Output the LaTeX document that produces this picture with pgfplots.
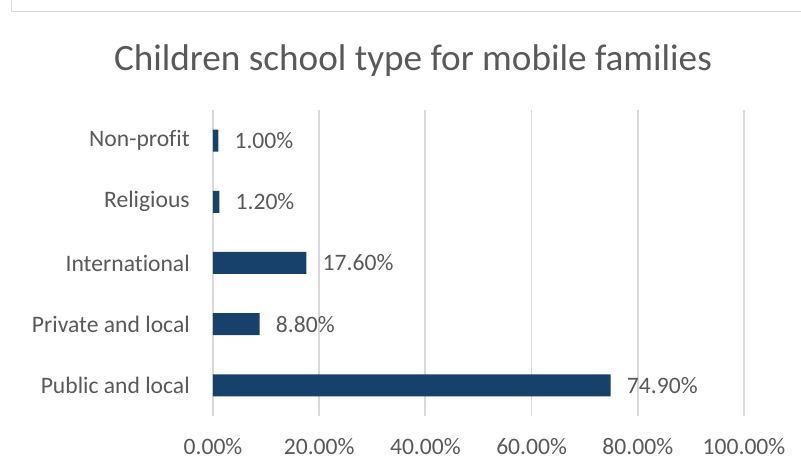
\documentclass[border=0pt]{standalone}
\usepackage{pgfplots}
\pgfplotsset{compat=1.18}
\usepackage{fontspec}
\setmainfont{Carlito}[Ligatures=NoCommon]
\definecolor{barcol}{HTML}{17406A}
\definecolor{txtcol}{HTML}{595959}
\definecolor{gridcol}{HTML}{D9D9D9}
\begin{document}
\begin{tikzpicture}[x=0.75pt,y=0.75pt]
\begin{axis}[
  at={(213*0.75pt,55*0.75pt)}, anchor=south west,
  scale only axis,
  width=398.25pt, height=229.5pt,
  xbar, bar width=16.5pt,
  xmin=0, xmax=100, ymin=-0.5, ymax=4.5,
  xtick={0,20,40,60,80,100},
  ytick={0,1,2,3,4},
  yticklabels={Public and local,Private and local,International,Religious,Non-profit},
  xticklabel={\pgfmathprintnumber[fixed,fixed zerofill,precision=2]{\tick}\%},
  /pgf/number format/assume math mode=true,
  xmajorgrids, major grid style={gridcol, line width=1.35pt},
  axis line style={draw=none},
  major tick length=0pt,
  tick label style={font=\fontsize{17.7}{21}\selectfont, text=txtcol, inner sep=0pt},
  xticklabel style={anchor=base, yshift=-39*0.75pt},
  yticklabel style={anchor=east, xshift=-23*0.75pt},
  point meta=x,
  nodes near coords={\pgfmathprintnumber[fixed,fixed zerofill,precision=2,assume math mode=true]{\pgfplotspointmeta}\%},
  every node near coord/.append style={font=\fontsize{17.7}{21}\selectfont, text=txtcol, inner sep=0pt, anchor=west, xshift=16*0.75pt},
  clip=false,
]
\addplot[fill=barcol, draw=none] coordinates {(74.9,0) (8.8,1) (17.6,2) (1.2,3) (1.0,4)};
\end{axis}
\node[anchor=base, text=txtcol, font=\fontsize{27.9}{33}\selectfont, inner sep=0pt] at (413,400) {Children school type for mobile families};
\draw[gridcol, line width=0.8pt] (11.5,471) -- (11.5,459.5) -- (801,459.5);
\pgfresetboundingbox
\useasboundingbox (0,0) rectangle (801,471);
\end{tikzpicture}
\end{document}
